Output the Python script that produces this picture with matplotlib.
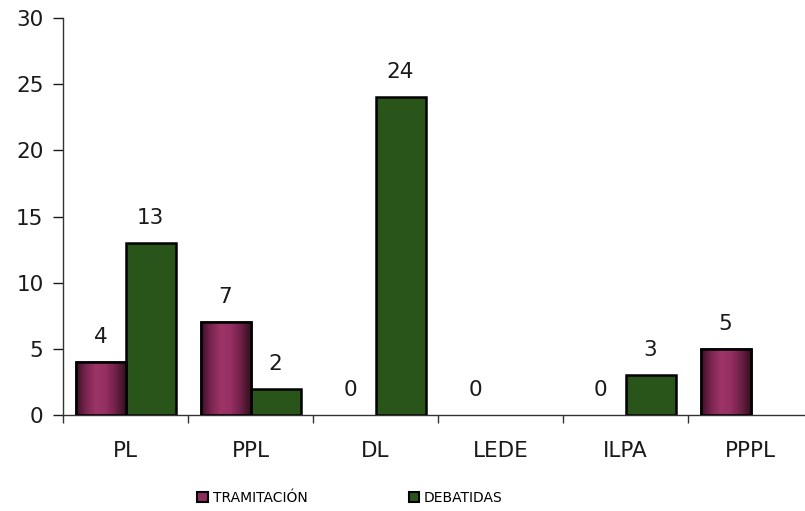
import numpy as np
import matplotlib
matplotlib.use("Agg")
import matplotlib.pyplot as plt
from matplotlib.colors import LinearSegmentedColormap
from matplotlib.patches import Patch

categories = ["PL", "PPL", "DL", "LEDE", "ILPA", "PPPL"]
tramitacion = [4, 7, 0, 0, 0, 5]
debatidas = [13, 2, 24, np.nan, 3, np.nan]
yticks = [0, 5, 10, 15, 20, 25, 30]

maroon = "#8e2c5c"
green = "#29551a"
grad = LinearSegmentedColormap.from_list(
    "maroon", ["#3a1026", "#7a2550", "#9d3567", "#962f62", "#6e2047", "#35101f"])

fig = plt.figure(figsize=(8.05, 5.11), dpi=100)
ax = fig.add_axes([63 / 805, 96 / 511, 750 / 805, 397 / 511])

x = np.arange(len(categories))
w = 0.4
b1 = ax.bar(x - w / 2, tramitacion, w, color=maroon, edgecolor="black", linewidth=1.8, zorder=2)
b2 = ax.bar(x + w / 2, np.nan_to_num(debatidas), w, color=green, edgecolor="black", linewidth=1.8, zorder=2)

# hide empty bars, shade the maroon ones
g = np.linspace(0, 1, 256).reshape(1, -1)
for r in list(b1) + list(b2):
    if r.get_height() <= 0:
        r.set_visible(False)
for r in b1:
    if r.get_height() <= 0:
        continue
    im = ax.imshow(g, cmap=grad, aspect="auto", zorder=2.5,
                   extent=[r.get_x(), r.get_x() + r.get_width(), 0, r.get_height()])
    im.set_clip_path(r)
    ax.add_patch(plt.Rectangle((r.get_x(), 0), r.get_width(), r.get_height(),
                               fill=False, edgecolor="black", linewidth=1.8, zorder=3))

for xi, v in zip(x - w / 2, tramitacion):
    ax.annotate(str(v), (xi, v), xytext=(0, 18), textcoords="offset points",
                ha="center", va="center", fontsize=15.5, color="#1a1a1a")
for xi, v in zip(x + w / 2, debatidas):
    if np.isnan(v):
        continue
    ax.annotate(str(int(v)), (xi, v), xytext=(0, 18), textcoords="offset points",
                ha="center", va="center", fontsize=15.5, color="#1a1a1a")

ax.set_xlim(-0.5, len(categories) - 0.5)
ax.set_ylim(0, 30)
ax.set_yticks(yticks)
ax.tick_params(axis="y", length=7, width=1, pad=7, labelsize=15.5, colors="#1a1a1a")

ax.set_xticks(np.arange(-0.5, len(categories), 1.0))
ax.set_xticklabels([])
ax.tick_params(axis="x", which="major", length=6, width=1, colors="#333333")
ax.set_xticks(x, minor=True)
ax.set_xticklabels(categories, minor=True)
ax.tick_params(axis="x", which="minor", length=0, pad=19, labelsize=15.5, labelcolor="#1a1a1a")

for s in ["top", "right"]:
    ax.spines[s].set_visible(False)
for s in ["left", "bottom"]:
    ax.spines[s].set_color("#333333")
    ax.spines[s].set_linewidth(1)

handles = [Patch(facecolor=maroon, edgecolor="black", linewidth=1.5),
           Patch(facecolor=green, edgecolor="black", linewidth=1.5)]
fig.legend(handles, ["TRAMITACIÓN", "DEBATIDAS"], loc="center", ncol=2,
           bbox_to_anchor=(350 / 805, 1 - 498 / 511), frameon=False, fontsize=10,
           handlelength=0.75, handleheight=0.75, handletextpad=0.35, columnspacing=7.3)

fig.savefig("out.png", dpi=100)
